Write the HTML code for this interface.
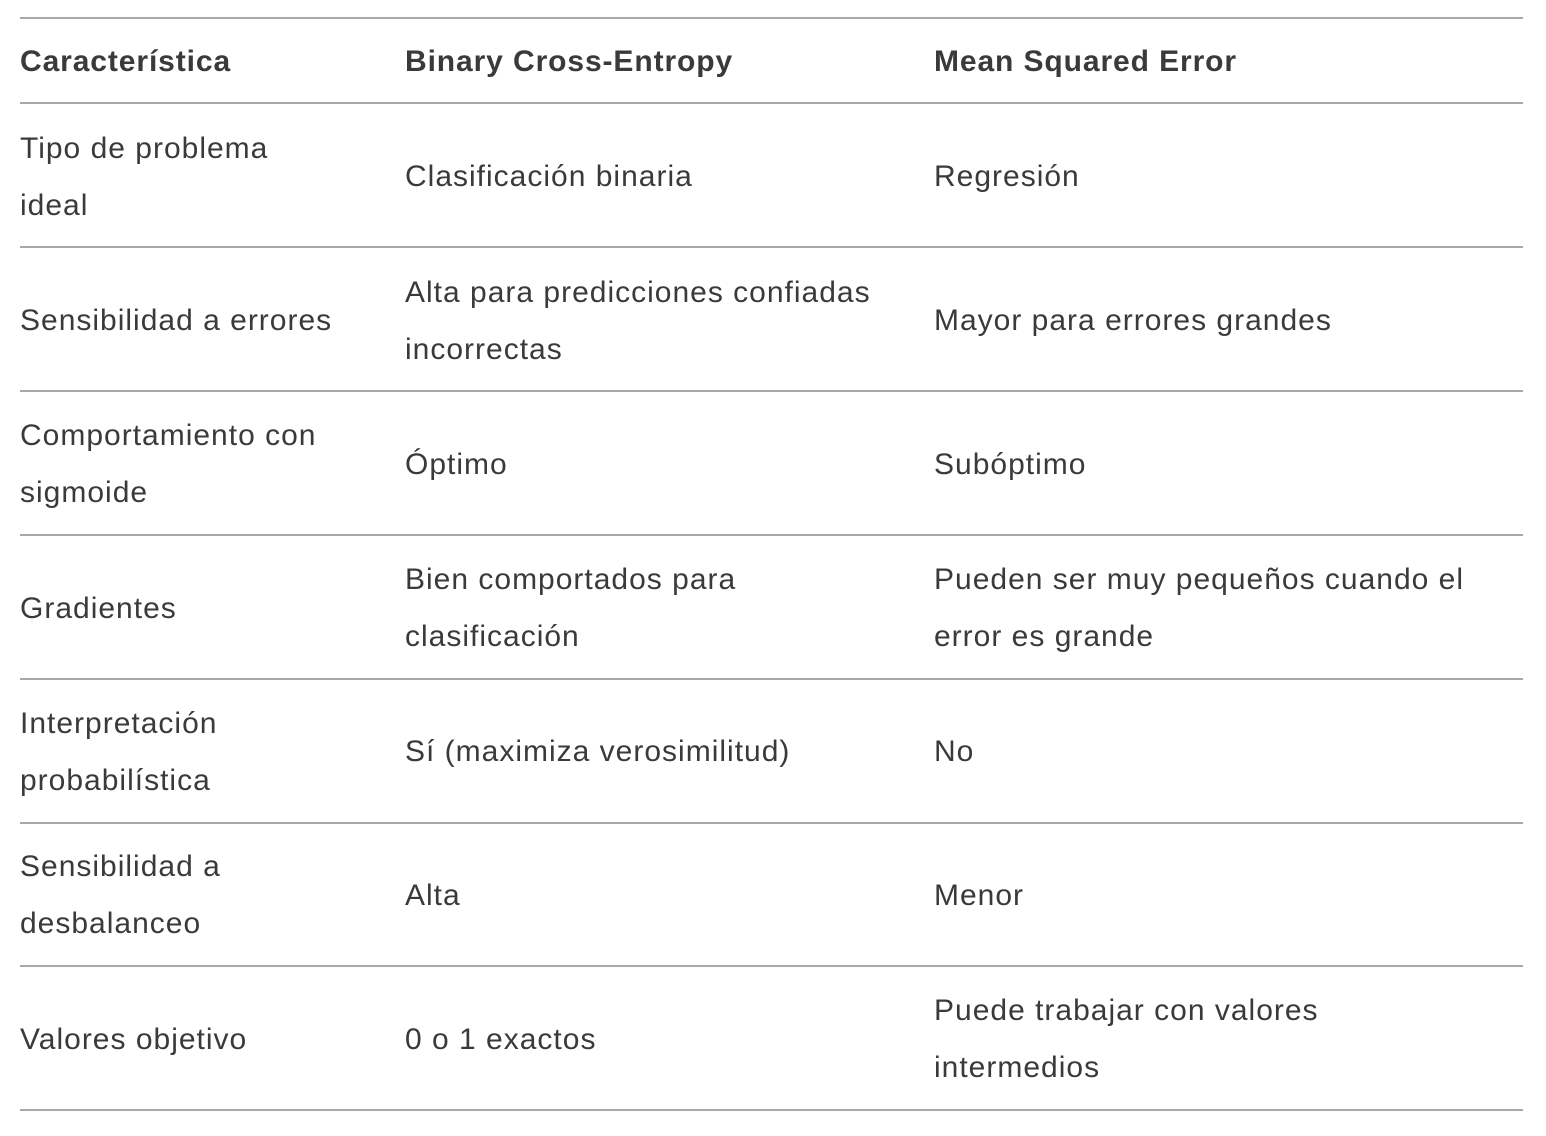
<!DOCTYPE html>
<html><head><meta charset="utf-8"><style>
body{margin:0;width:1546px;height:1136px;background:#fff;position:relative;font-family:"Liberation Sans",Arial,sans-serif;color:#3a3a3a;font-size:30px;letter-spacing:1px;line-height:57px;overflow:hidden}
.l{position:absolute;left:20px;width:1503px;height:2px;background:#a8a8a8}
.c{position:absolute;white-space:nowrap}
.b{font-weight:bold;letter-spacing:0.9px}
</style></head><body>
<div class="l" style="top:17px"></div>
<div class="l" style="top:102px"></div>
<div class="l" style="top:246px"></div>
<div class="l" style="top:390px"></div>
<div class="l" style="top:534px"></div>
<div class="l" style="top:678px"></div>
<div class="l" style="top:822px"></div>
<div class="l" style="top:965px"></div>
<div class="l" style="top:1109px"></div>

<div class="c b" style="left:20px;top:33px">Característica</div>
<div class="c b" style="left:405px;top:33px">Binary Cross-Entropy</div>
<div class="c b" style="left:934px;top:33px">Mean Squared Error</div>

<div class="c" style="left:20px;top:120px">Tipo de problema<br>ideal</div>
<div class="c" style="left:405px;top:148px">Clasificación binaria</div>
<div class="c" style="left:934px;top:148px">Regresión</div>

<div class="c" style="left:20px;top:292px">Sensibilidad a errores</div>
<div class="c" style="left:405px;top:264px">Alta para predicciones confiadas<br>incorrectas</div>
<div class="c" style="left:934px;top:292px">Mayor para errores grandes</div>

<div class="c" style="left:20px;top:407px">Comportamiento con<br>sigmoide</div>
<div class="c" style="left:405px;top:436px">Óptimo</div>
<div class="c" style="left:934px;top:436px">Subóptimo</div>

<div class="c" style="left:20px;top:580px">Gradientes</div>
<div class="c" style="left:405px;top:551px">Bien comportados para<br>clasificación</div>
<div class="c" style="left:934px;top:551px">Pueden ser muy pequeños cuando el<br>error es grande</div>

<div class="c" style="left:20px;top:695px">Interpretación<br>probabilística</div>
<div class="c" style="left:405px;top:723px">Sí (maximiza verosimilitud)</div>
<div class="c" style="left:934px;top:723px">No</div>

<div class="c" style="left:20px;top:838px">Sensibilidad a<br>desbalanceo</div>
<div class="c" style="left:405px;top:867px">Alta</div>
<div class="c" style="left:934px;top:867px">Menor</div>

<div class="c" style="left:20px;top:1011px">Valores objetivo</div>
<div class="c" style="left:405px;top:1011px">0 o 1 exactos</div>
<div class="c" style="left:934px;top:982px">Puede trabajar con valores<br>intermedios</div>
</body></html>
